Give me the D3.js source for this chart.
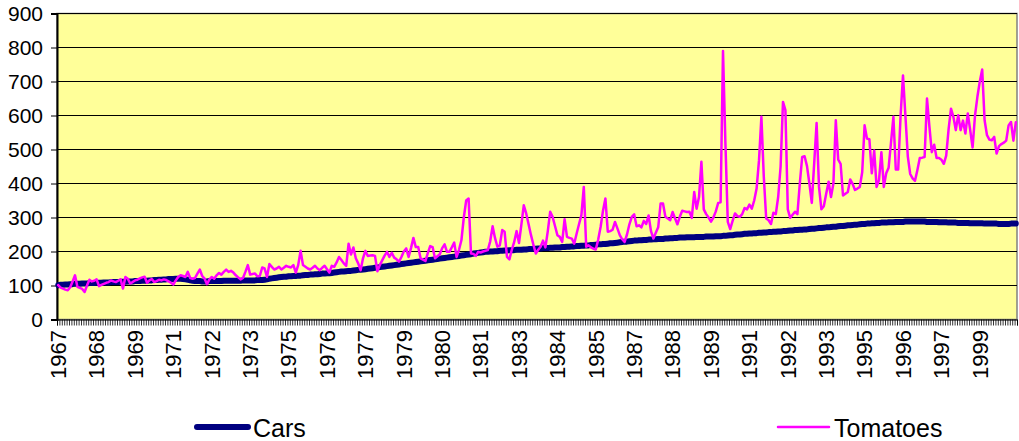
<!DOCTYPE html>
<html>
<head>
<meta charset="utf-8">
<script src="https://cdn.jsdelivr.net/npm/d3@7"></script>
<style>
  body { margin: 0; background: #fff; }
  text { font-family: "Liberation Sans", Arial, sans-serif; fill: #000; }
</style>
</head>
<body>
<div id="chart"></div>
<script>
// monthly values, Jan 1967 .. Apr 2000 (one row per year)
var cars = [
  101,102,102,103,103,104,104,105,105,105,106,106,
  106,107,107,107,108,108,108,109,109,109,110,110,
  110,110,111,111,111,112,112,112,113,113,113,114,
  114,114,115,115,116,116,117,117,118,118,119,119,
  119,120,120,120,119,118,117,115,114,113,113,113,
  112,112,112,113,113,113,113,113,113,114,114,114,
  114,114,114,114,114,115,115,115,115,115,115,116,
  116,116,117,118,120,121,122,123,124,125,126,126,
  127,127,128,128,129,129,130,131,131,132,132,133,
  133,134,135,135,136,136,137,138,139,140,141,141,
  142,143,143,144,145,146,146,147,148,149,150,151,
  152,153,154,155,156,157,158,159,160,161,162,163,
  164,165,166,167,168,169,170,171,172,173,174,175,
  176,177,178,179,180,181,182,183,184,185,186,187,
  188,189,190,191,192,194,195,196,197,198,199,199,
  200,200,201,201,202,202,203,203,204,204,204,205,
  205,205,206,206,207,207,208,208,209,209,210,210,
  210,211,211,212,212,212,213,213,214,214,215,215,
  216,216,217,217,218,218,219,219,220,221,221,222,
  222,223,224,224,225,226,227,228,229,229,230,231,
  232,232,233,233,234,234,235,235,236,236,237,237,
  237,238,238,239,239,240,240,241,241,241,242,242,
  242,242,243,243,243,243,244,244,244,244,245,245,
  245,246,246,247,248,248,249,250,250,251,252,252,
  253,253,254,254,255,255,256,256,257,257,258,258,
  259,259,260,260,261,262,262,263,263,264,264,265,
  265,266,267,267,268,269,269,270,271,271,272,273,
  273,274,275,275,276,277,277,278,279,279,280,281,
  281,282,282,283,283,284,284,285,285,285,286,286,
  286,287,287,287,287,288,288,288,288,288,288,288,
  288,288,287,287,287,287,287,286,286,286,286,285,
  285,285,285,284,284,284,284,284,283,283,283,283,
  283,283,282,282,282,282,282,282,281,281,281,281,
  281,282,282,282
];

var tomatoes = [
  101,94,91,88,86,95,112,130,96,93,90,81,
  100,117,112,114,118,98,102,105,108,110,115,112,
  110,114,118,91,125,120,106,110,115,117,121,124,
  126,108,115,119,110,113,117,115,118,116,112,108,
  103,115,125,130,128,125,140,122,120,122,135,147,
  128,120,104,118,125,120,130,137,132,140,147,140,
  143,138,130,124,118,122,140,160,132,134,135,127,
  128,153,150,125,163,155,147,150,155,147,152,158,
  155,153,160,138,160,202,160,155,150,147,152,158,
  150,145,152,158,148,138,158,155,168,184,175,165,
  158,223,191,212,180,165,145,180,202,187,188,189,
  187,142,160,174,188,199,184,196,182,177,170,184,
  200,209,184,210,240,213,213,180,176,172,195,216,
  213,180,186,192,210,221,199,199,212,226,184,205,
  233,300,350,356,194,193,187,199,197,200,202,204,
  230,274,240,214,218,263,258,184,177,205,228,260,
  225,280,336,312,280,248,220,194,205,214,232,212,
  260,317,302,275,248,243,228,295,243,240,238,223,
  252,280,307,390,214,218,212,208,206,235,272,320,
  356,258,260,264,287,268,248,236,228,250,280,302,
  309,274,277,271,290,281,306,260,238,255,271,341,
  341,302,297,292,316,298,280,302,320,318,316,317,
  299,375,326,360,464,324,310,300,288,300,318,343,
  345,790,520,287,266,290,312,304,302,310,328,324,
  338,326,350,385,468,596,420,297,292,281,314,310,
  361,450,640,616,324,299,308,317,310,400,478,480,
  451,400,343,460,578,390,324,333,370,405,360,400,
  586,470,458,365,370,375,412,399,381,385,390,433,
  571,532,530,430,497,390,410,492,390,430,446,520,
  596,441,441,600,718,600,480,428,415,408,440,475,
  476,478,650,568,492,514,475,475,470,458,482,560,
  620,596,557,601,557,585,547,606,557,506,600,655,
  700,735,586,542,529,527,537,488,510,516,520,526,
  571,581,526,580
];

// category labels shown every 16 months
var tickLabels = ["1967","1968","1969","1971","1972","1973","1975","1976","1977",
  "1979","1980","1981","1983","1984","1985","1987","1988","1989","1991","1992",
  "1993","1995","1996","1997","1999"];
var labelEvery = 16;
var yTicks = [0,100,200,300,400,500,600,700,800,900];
var seriesNames = ["Cars","Tomatoes"];
var seriesColors = ["#000080","#FF00FF"];
var seriesWidths = [6,2.5];

var width = 1019, height = 441;
var plotLeft = 57, plotRight = 1017, plotTop = 13.5, plotBottom = 319.5;
var n = cars.length;

var svg = d3.select('#chart').append('svg').attr('width', width).attr('height', height);

var x = d3.scaleBand().domain(d3.range(n)).range([plotLeft, plotRight]);
var xEdge = d3.scaleLinear().domain([0, n]).range([plotLeft, plotRight]);
var y = d3.scaleLinear().domain([0, 900]).range([plotBottom, plotTop]);

// plot area
svg.append('rect').attr('x', plotLeft).attr('y', plotTop)
  .attr('width', plotRight - plotLeft).attr('height', plotBottom - plotTop)
  .style('fill', '#FFFF99').style('stroke', '#808080').style('stroke-width', 1.5);

// gridlines
svg.append('g').selectAll('line').data(yTicks.slice(1)).enter().append('line')
  .attr('x1', plotLeft).attr('x2', plotRight)
  .attr('y1', function(d){ return y(d); }).attr('y2', function(d){ return y(d); })
  .style('stroke', '#000').style('stroke-width', 1);

// y axis
var yAxis = svg.append('g').attr('transform', 'translate(' + plotLeft + ',0)')
  .call(d3.axisLeft(y).tickValues(yTicks).tickSize(6).tickPadding(8).tickFormat(d3.format('d')));
yAxis.select('.domain').style('stroke', '#000').style('stroke-width', 2);
yAxis.selectAll('.tick line').style('stroke', '#000');
yAxis.selectAll('text').style('font-size', '21px').style('font-family', '"Liberation Sans", Arial, sans-serif');

// x axis: a tick at every month boundary
var xAxis = svg.append('g').attr('transform', 'translate(0,' + plotBottom + ')')
  .call(d3.axisBottom(xEdge).tickValues(d3.range(n + 1)).tickSize(6).tickFormat(''));
xAxis.select('.domain').style('stroke', '#000');
xAxis.selectAll('.tick line').style('stroke', '#000').style('stroke-width', 0.8);

svg.append('g').selectAll('text').data(tickLabels).enter().append('text')
  .attr('transform', function(d, i){ return 'translate(' + (x(i * labelEvery) + x.bandwidth() / 2) + ',330) rotate(-90)'; })
  .attr('text-anchor', 'end').attr('dy', '0.35em')
  .style('font-size', '22px')
  .text(function(d){ return d; });

// lines
var line = d3.line()
  .x(function(d, i){ return x(i) + x.bandwidth() / 2; })
  .y(function(d){ return y(d); });

[cars, tomatoes].forEach(function(s, k){
  svg.append('path').datum(s).attr('d', line)
    .style('fill', 'none').style('stroke', seriesColors[k]).style('stroke-width', seriesWidths[k])
    .style('stroke-linejoin', 'round').style('stroke-linecap', 'round');
});

// legend
var legendX = [197, 778];
seriesNames.forEach(function(name, k){
  var g = svg.append('g').attr('transform', 'translate(' + legendX[k] + ',427)');
  g.append('line').attr('x1', 0).attr('x2', 51).attr('y1', 0).attr('y2', 0)
    .style('stroke', seriesColors[k]).style('stroke-width', seriesWidths[k]).style('stroke-linecap', 'round');
  g.append('text').attr('x', 56).attr('y', 10).style('font-size', '25px').text(name);
});
</script>
</body>
</html>
